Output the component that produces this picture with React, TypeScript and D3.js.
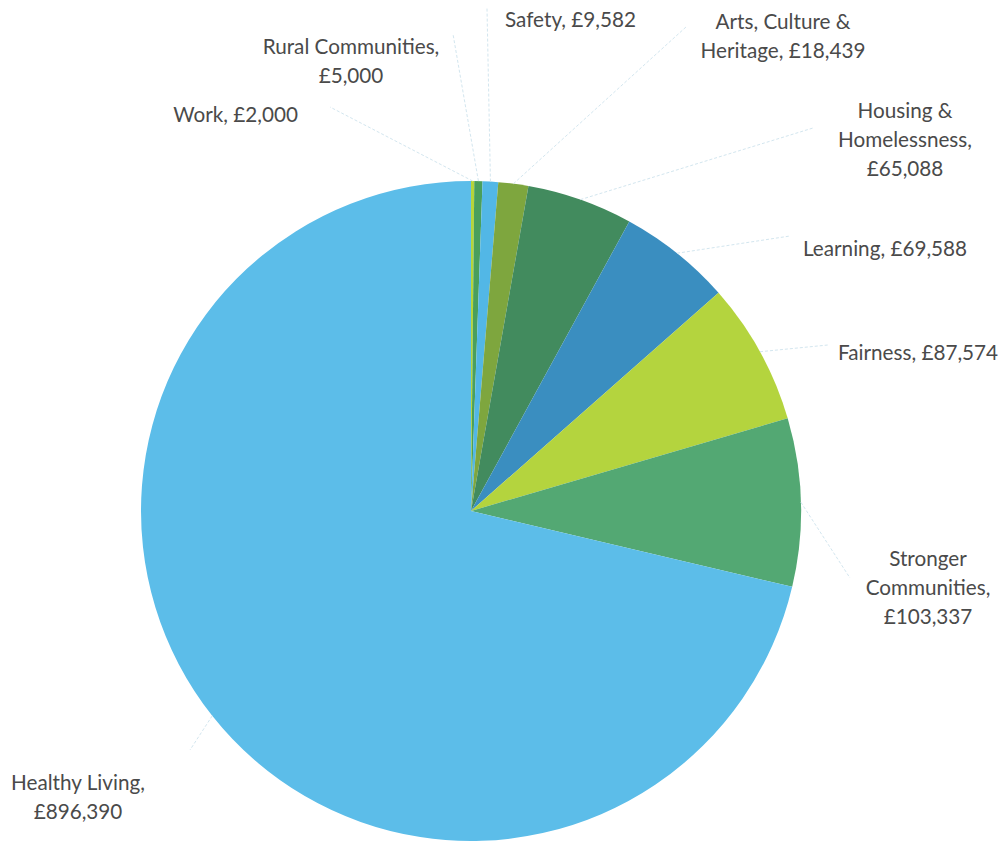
import React from "react";
import * as d3 from "d3";

const categories = [
  "Work",
  "Rural Communities",
  "Safety",
  "Arts, Culture & Heritage",
  "Housing & Homelessness",
  "Learning",
  "Fairness",
  "Stronger Communities",
  "Healthy Living",
];
const values = [2000, 5000, 9582, 18439, 65088, 69588, 87574, 103337, 896390];
const palette = [
  "#b6d53a",
  "#4a9f5c",
  "#52b7e6",
  "#7ea63e",
  "#428b5e",
  "#3a8ec0",
  "#b4d43e",
  "#53a873",
  "#5cbde9",
];

// label layout: line splits, anchor centre, leader end point
const labelLayout: { lines: (t: string, v: string) => string[]; x: number; y: number; anchor: string; lx: number; ly: number }[] = [
  { lines: (t, v) => [`${t}, ${v}`], x: 298, y: 117, anchor: "end", lx: 330, ly: 107 },
  { lines: (t, v) => [`${t},`, v], x: 351, y: 49, anchor: "middle", lx: 453, ly: 34 },
  { lines: (t, v) => [`${t}, ${v}`], x: 505, y: 22, anchor: "start", lx: 487, ly: 8 },
  { lines: () => ["Arts, Culture &", "Heritage, £18,439"], x: 783, y: 24, anchor: "middle", lx: 686, ly: 27 },
  { lines: () => ["Housing &", "Homelessness,", "£65,088"], x: 905, y: 113, anchor: "middle", lx: 813, ly: 128 },
  { lines: (t, v) => [`${t}, ${v}`], x: 803, y: 251, anchor: "start", lx: 790, ly: 236 },
  { lines: (t, v) => [`${t}, ${v}`], x: 838, y: 355, anchor: "start", lx: 828, ly: 345 },
  { lines: () => ["Stronger", "Communities,", "£103,337"], x: 928, y: 561, anchor: "middle", lx: 850, ly: 578 },
  { lines: (t, v) => [`${t},`, v], x: 78, y: 785, anchor: "middle", lx: 190, ly: 750 },
];

export default function App() {
  const width = 1004;
  const height = 843;
  const cx = 471;
  const cy = 511;
  const r = 330;
  const fmt = (v: number) => "£" + d3.format(",")(v);

  const data = categories.map((c, i) => ({ c, v: values[i], i }));
  const pie = d3.pie<any>().value((d) => d.v).sort(null);
  const arcs = pie(data);
  const arcGen = d3.arc<any>().innerRadius(0).outerRadius(r);

  return (
    <svg width={width} height={height} style={{ position: "absolute", left: 0, top: 0, background: "#fff" }}>
      <g transform={`translate(${cx},${cy})`}>
        {arcs.map((a, i) => (
          <path key={i} d={arcGen(a) || ""} fill={palette[i]} />
        ))}
      </g>
      {arcs.map((a, i) => {
        const mid = (a.startAngle + a.endAngle) / 2;
        const px = cx + r * Math.sin(mid);
        const py = cy - r * Math.cos(mid);
        const L = labelLayout[i];
        return (
          <line key={"l" + i} x1={px} y1={py} x2={L.lx} y2={L.ly} stroke="#d3e6ef" strokeWidth={1} strokeDasharray="3 2" />
        );
      })}
      {data.map((d, i) => {
        const L = labelLayout[i];
        const lines = L.lines(d.c, fmt(d.v));
        return (
          <text
            key={"t" + i}
            x={L.x}
            y={L.y}
            textAnchor={L.anchor as any}
            dominantBaseline="middle"
            fontFamily="Lato, 'Open Sans', sans-serif"
            fontSize={20.7}
            fill="#4a4a4a"
          >
            {lines.map((ln, j) => (
              <tspan key={j} x={L.x} dy={j === 0 ? 0 : 28.8}>
                {ln}
              </tspan>
            ))}
          </text>
        );
      })}
    </svg>
  );
}
